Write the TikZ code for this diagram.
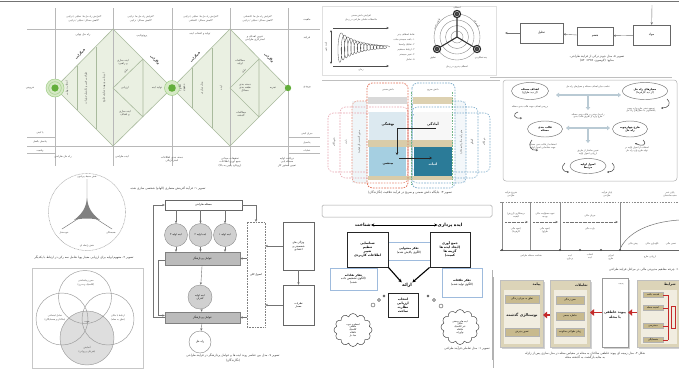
\documentclass[tikz,border=0pt]{standalone}
\usepackage{fontspec}
\newfontfamily\arabicfont[Script=Arabic]{DejaVu Sans}
\TeXXeTstate=1
\usetikzlibrary{arrows.meta,shapes.geometric,shapes.symbols}
\newcommand\fa[1]{{\arabicfont\beginR #1\endR}}

\definecolor{dfill}{HTML}{EAF0E2}
\definecolor{dedge}{HTML}{A9BA9D}
\definecolor{gdot}{HTML}{62AE3A}
\definecolor{gring}{HTML}{C4E0AC}
\definecolor{kred}{HTML}{E06A50}
\definecolor{kpink}{HTML}{E8A2AE}
\definecolor{kblue}{HTML}{7AAACA}
\definecolor{kgreen}{HTML}{72B585}
\definecolor{ktan}{HTML}{D9CCA9}
\definecolor{klight}{HTML}{DCE9F0}
\definecolor{kmid}{HTML}{A5CFE1}
\definecolor{kdark}{HTML}{2B7B98}
\definecolor{pgrey}{HTML}{D0D0D0}
\definecolor{pgreyd}{HTML}{BBBBBB}
\definecolor{tanA}{HTML}{DCD4B8}
\definecolor{tanB}{HTML}{C8BA8E}
\definecolor{creamA}{HTML}{F1EDE0}
\definecolor{rarrow}{HTML}{C42A2A}
\definecolor{bline}{HTML}{9EBBDD}
\definecolor{parrow}{HTML}{B9CAD4}

\tikzset{
  txt/.style={font=\fontsize{2.7}{3.3}\selectfont, inner sep=0.2pt, align=center, text=black!72},
  txs/.style={txt, font=\fontsize{2.3}{2.8}\selectfont},
  txb/.style={txt, font=\fontsize{3.4}{4.1}\selectfont\bfseries, text=black!88},
  txe/.style={txt, font=\fontsize{3}{3.6}\selectfont\bfseries, text=black!85},
  txl/.style={txt, font=\fontsize{4.4}{5.2}\selectfont\bfseries, text=black},
  capt/.style={txt, font=\fontsize{3}{3.6}\selectfont, text=black!80},
  gridln/.style={draw=black!28, line width=0.45pt},
  dline/.style={draw=dedge, line width=0.6pt},
  arr/.style={-{Stealth[length=2.6pt,width=2.2pt]}},
  thinln/.style={draw=black!55, line width=0.4pt},
  boxn/.style={draw=black!60, line width=0.45pt, inner sep=0.5pt, align=center},
  greyc/.style={circle, draw=black!45, fill=pgrey, line width=0.4pt, minimum size=23pt, inner sep=0pt, font=\fontsize{2.5}{3}\selectfont, align=center},
  greyr/.style={draw=black!50, fill=pgreyd, line width=0.4pt, inner sep=0pt, font=\fontsize{2.7}{3.3}\selectfont, align=center},
  kdash/.style={dashed, dash pattern=on 1.6pt off 1.2pt, rounded corners=5pt, line width=0.55pt},
  oval/.style={ellipse, draw=black!55, line width=0.45pt, inner sep=0pt, align=center, font=\fontsize{2.7}{3.3}\selectfont},
  parr/.style={draw=parrow, line width=2pt, {Triangle[length=3pt,width=4.5pt]}-{Triangle[length=3pt,width=4.5pt]}},
  parrv/.style={draw=parrow, line width=2pt, -{Triangle[length=3pt,width=4.5pt]}},
  hook/.style={draw=black!70, line width=0.55pt, -{Stealth[length=2pt,width=2pt]}},
  tbox/.style={draw=black!85, line width=0.9pt, fill=white, inner sep=0pt, align=center, font=\fontsize{3.2}{4}\selectfont\bfseries},
  bbox/.style={draw=bline, line width=0.7pt, fill=white, inner sep=0pt, align=center, font=\fontsize{2.9}{3.6}\selectfont},
  tline/.style={draw=black!45, line width=0.45pt},
  redarr/.style={draw=rarrow, line width=1.8pt, -{Triangle[length=4pt,width=6.5pt]}},
  panelT/.style={fill=tanA, draw=black!25, line width=0.3pt},
  innerB/.style={fill=tanB, draw=black!30, line width=0.3pt, inner sep=0pt, align=center, font=\fontsize{2.5}{3}\selectfont},
}

\begin{document}
\begin{tikzpicture}[x=1pt,y=-1pt]
\useasboundingbox (0,0) rectangle (679,368);
\fill[white] (0,0) rectangle (679,368);
\draw[black!55, line width=1pt] (0,1) -- (679,1);

%% ================= double diamond process map =================
\fill[dfill] (55,88) -- (113,29) -- (172,88) -- (113,146) -- cycle;
\fill[dfill] (172,88) -- (230,29) -- (288,88) -- (230,146) -- cycle;
\foreach \x in {55,113,172,230,288} \draw[gridln] (\x,8) -- (\x,166);
\draw[gridln] (27,29) -- (320,29);
\draw[gridln] (27,146) -- (320,146);
\draw[gridln] (27,137) -- (55,137) (27,153) -- (55,153) (288,137) -- (320,137) (288,153) -- (320,153);
\draw[dline] (55,88) -- (113,29) -- (172,88) -- (113,146) -- cycle;
\draw[dline] (172,88) -- (230,29) -- (288,88) -- (230,146) -- cycle;
\draw[dline] (77,66) -- (77,110) (96,47) -- (96,129);
\draw[dline] (143,59) -- (113,88) -- (143,117) (143,59) -- (143,117);
\draw[dline] (192,68) -- (192,108) (212,48) -- (212,128);
\draw[dline] (259,59) -- (230,88) -- (259,117) (259,59) -- (259,117);
% nodes of the diamonds
\fill[gring!70] (55,88) circle (9);
\draw[gdot!60, line width=0.5pt] (55,88) circle (9) (55,88) circle (6.3);
\fill[gdot] (55,88) circle (3.6);
\fill[gring!70] (172,88) circle (7.5);
\draw[gdot!60, line width=0.5pt] (172,88) circle (7.5);
\fill[gdot] (172,88) circle (3.8);
\fill[gdot] (288,88) circle (3.2);
% headers
\node[txs] (h1) at (84,19) {\fa{*افزایش راه حل ها: تحلیلی / ترکیبی}\\[0.6pt]\fa{*کاهش مسائل: تحلیلی / ترکیبی}};
\node[txs] (h2) at (141,19) {\fa{*افزایش راه حل ها: ترکیبی}\\[0.6pt]\fa{*کاهش مسائل: ترکیبی}};
\node[txs] (h3) at (201,19) {\fa{*افزایش راه حل ها: تحلیلی / ترکیبی}\\[0.6pt]\fa{*کاهش مسائل: اکتشافی}};
\node[txs] (h4) at (258,19) {\fa{*افزایش راه حل ها: اکتشافی}\\[0.6pt]\fa{*کاهش مسائل: تحلیلی / ترکیبی}};
\node[txt] (s1) at (83,35) {\fa{راه حل نهایی}};
\node[txt] (s2) at (142,36) {\fa{پروتوتایپ}};
\node[txt] (s3) at (200,34) {\fa{تولید و انتخاب ایده}};
\node[txt] (s4) at (255,38) {\fa{تدوین اهداف و}\\\fa{استراتژی طراحی}};
\node[txt] (rl1) at (307,20) {\fa{ماهیت}};
\node[txt] (rl2) at (307,38) {\fa{فرایند}};
\node[txt] (rl3) at (307,87) {\fa{ورودی}};
\node[txs] (rl4) at (307,134) {\fa{میزان کیفی}};
\node[txs] (rl5) at (307,143) {\fa{پتانسیل}};
\node[txs] (rl6) at (307,151) {\fa{عملیات}};
\node[txt] (ll1) at (30,88) {\fa{خروجی}};
\node[txs] (ll2) at (40,133) {\fa{یا کیفی}};
\node[txs] (ll3) at (40,142) {\fa{پتانسیل بالفعل}};
\node[txs] (ll4) at (40,151) {\fa{واقعیت}};
\node[txt] (b1) at (63,157) {\fa{راه حل طراحی}};
\node[txt] (b2) at (122,157) {\fa{ایده طراحی}};
\node[txt] (b3) at (172,159) {\fa{دسته بندی اطلاعات}\\\fa{استراتژیکی}};
\node[txt] (b4) at (230,162) {\fa{تحقیقات میدانی}\\\fa{جمع آوری اطلاعات}\\\fa{(رویکرد پایین به بالا)}};
\node[txt] (b5) at (287,162) {\fa{دریافت اولیه}\\\fa{مسئله یابی}\\\fa{تعیین دستور کار}};
% inside the diamonds
\node[txe, rotate=45] (e1) at (80,54) {\fa{همگرایی}};
\node[txe, rotate=-45] (e2) at (155,60) {\fa{واگرایی}};
\node[txe, rotate=45] (e3) at (195,57) {\fa{همگرایی}};
\node[txe, rotate=-45] (e4) at (269,58) {\fa{واگرایی}};
\node[txs, rotate=45] (e5) at (126,71) {\fa{تحلیل}};
\node[txs, rotate=45] (e6) at (244,71) {\fa{تحلیل}};
\node[txt, rotate=90] (c1t) at (67,88) {\fa{انتخاب نهایی}};
\node[txt, rotate=90] (c2t) at (86,88) {\fa{طراحی فنی و تکمیل جزئیات}};
\node[txt, rotate=90] (c3t) at (104,88) {\fa{ارزیابی و بهینه سازی طرح}};
\node[txt] (r1t) at (123,62) {\fa{ایده سازی}\\\fa{و راهبرد}};
\node[txt] (r2t) at (125,88) {\fa{ارزیابی}};
\node[txt] (r3t) at (125,113) {\fa{ایده سازی}\\\fa{و اهداف}};
\node[txt] (r4t) at (157,88) {\fa{تولید ایده}};
\node[txt, rotate=90] (c4t) at (182,88) {\fa{الگو /}\\\fa{مفهوم}};
\node[txt, rotate=90] (c5t) at (202,88) {\fa{مدل سازی}};
\node[txt, rotate=90] (c6t) at (221,88) {\fa{ایده}};
\node[txt] (r5t) at (240,62) {\fa{مطالعات}\\\fa{اولیه}};
\node[txt] (r6t) at (245,88) {\fa{دسته بندی}\\\fa{طبقه بندی}\\\fa{مسائل}};
\node[txt] (r7t) at (241,114) {\fa{مطالعات}\\\fa{گذشته}};
\node[txt] (r8t) at (273,88) {\fa{تجربه}};

%% ================= wave and radar card =================
\draw[black!12, fill=white, line width=0.5pt] (322,6) rectangle (496,75);
\draw[black!25, line width=0.4pt] (322,80) -- (500,80);
\coordinate (wa1) at (333,28); \coordinate (wa2) at (389,28);
\draw[black!70, line width=0.5pt, arr] (wa1) -- (wa2);
\node[txs] (wt1) at (361,18) {\fa{افزایش دانش ضمنی}\\[0.5pt]\fa{ملاحظات تعاملی طراحی در زمان}};
\coordinate (wv1) at (331,30); \coordinate (wv2) at (331,64);
\draw[black!70, line width=0.5pt, {Stealth[length=2.4pt,width=2pt]}-{Stealth[length=2.4pt,width=2pt]}] (wv1) -- (wv2);
\node[txs, rotate=90] (wt2) at (326,47) {\fa{دامنه تغییر}};
\draw[black!65, line width=0.35pt] plot[domain=0:5400, samples=700, variable=\t]
  ({339 + \t/360*3.2 + 2.6*cos(\t)}, {47 + 16*exp(-\t/2100)*sin(\t)});
\coordinate (wb1) at (333,66); \coordinate (wb2) at (389,66);
\draw[black!70, line width=0.5pt, arr] (wb1) -- (wb2);
\node[txs] (wt3) at (361,70) {\fa{زمان}};
\node[txs, anchor=east] (wl1) at (415,35) {\fa{نقاط انعطاف پذیر}};
\node[txs, anchor=east] (wl2) at (415,40) {\fa{۱. بافت سیستم ساده}};
\node[txs, anchor=east] (wl3) at (415,45) {\fa{۲. تفکیک واحدها}};
\node[txs, anchor=east] (wl4) at (415,50) {\fa{۳. ارتباط مستقیم}};
\node[txs, anchor=east] (wl5) at (415,55) {\fa{۴. تغییر سیستم}};
\node[txs, anchor=east] (wl6) at (415,60) {\fa{۵. تعامل}};
\foreach \r in {23,17,11.5,6} \draw[black!45, line width=0.4pt] (457,37) circle (\r);
\coordinate (rc) at (457,37);
\coordinate (rt) at (457,14); \coordinate (rl) at (437,49); \coordinate (rr) at (477,49);
\draw[black!80, line width=1.1pt] (rt) -- (rc) -- (rl) (rc) -- (rr);
\foreach \p in {rt,rl,rr} {\fill[black!85] (\p) circle (4.2); \draw[white, line width=0.4pt] (\p) circle (2.6); \fill[black!70] (\p) circle (1.8);}
\node[txs] (ra1) at (457,7.5) {\fa{انعطاف}};
\node[txs, rotate=60] (ra2) at (437,24) {\fa{قابلیت تغییر}};
\node[txs, rotate=-60] (ra3) at (477,24) {\fa{گسترش}};
\node[txs] (ra4) at (433,58) {\fa{تطبیق}};
\node[txs] (ra5) at (481,58) {\fa{چندعملکردی}};
\node[txs] (ra6) at (457,67) {\fa{انعطاف پذیری در زمان}};

%% ================= tacit / explicit knowledge =================
\fill[klight!45] (352,101) rectangle (367,183);
\fill[klight!35] (455,101) rectangle (466,183);
\draw[kpink, kdash] (328,113) rectangle (408,172);
\draw[kpink, kdash] (340,107) rectangle (408,178);
\draw[kred!75, kdash] (352,101) rectangle (408,183);
\draw[kblue, kdash] (412,113) rectangle (490,172);
\draw[kblue, kdash] (412,107) rectangle (478,178);
\draw[kblue, kdash] (412,101) rectangle (466,183);
\fill[black!15] (368,97) rectangle (407,104);
\fill[ktan!90] (413,97) rectangle (453,104);
\fill[klight] (369,112) rectangle (406,140);
\fill[black!3] (414,112) rectangle (452,140);
\fill[ktan] (368,140) rectangle (453,147);
\fill[kmid] (369,147) rectangle (406,176);
\fill[kdark] (414,147) rectangle (452,176);
\fill[ktan] (368,176) rectangle (453,180);
\draw[kred, kdash, line width=0.7pt] (367,83) rectangle (408,188);
\draw[kblue, kdash, line width=0.7pt] (412,83) rectangle (455,188);
\draw[kgreen, dashed, dash pattern=on 1.6pt off 1.2pt, line width=0.6pt] (411,92) -- (411,185) (452,92) -- (452,185);
\node[txs] (kt1) at (388,90) {\fa{دانش ضمنی}};
\node[txs] (kt2) at (433,90) {\fa{دانش صریح}};
\node[txb] (kq1) at (388,124) {\fa{نهفتگی}};
\node[txb] (kq2) at (433,124) {\fa{آمادگی}};
\node[txb] (kq3) at (388,164) {\fa{بینشی}};
\node[txb, text=white] (kq4) at (433,164) {\fa{اثبات}};
\node[txs, rotate=90] (ko1) at (334,142) {\fa{ناخودآگاه}};
\node[txs, rotate=90] (ko2) at (346,142) {\fa{بازی}};
\node[txs, rotate=90] (ko3) at (359,142) {\fa{محور گذشته نگر (تقلید)}};
\node[txs, rotate=90] (ko4) at (484,142) {\fa{خودآگاه}};
\node[txs, rotate=90] (ko5) at (472,142) {\fa{گفتگو}};
\node[txs, rotate=90] (ko6) at (461,142) {\fa{محور آینده نگر (استدلال)}};
\coordinate (ka1) at (436,128); \coordinate (ka2) at (397,128); \coordinate (ka3) at (397,155);
\draw[black!85, line width=0.8pt, -{Stealth[length=2.6pt,width=2.6pt]}] (ka1) -- (ka2) -- (ka3);
\coordinate (ka4) at (399,158); \coordinate (ka5) at (432,158);
\draw[black!85, line width=0.8pt, -{Stealth[length=2.6pt,width=2.6pt]}] (ka4) -- (ka5);
\node[capt] (kcap) at (410,192) {\fa{تصویر ۳: جایگاه دانش ضمنی و صریح در فرآیند خلاقیت (نگارندگان)}};

%% ================= input / process / output blocks =================
\node[boxn, minimum width=37pt, minimum height=20pt, font=\fontsize{3}{3.6}\selectfont] (mawad) at (651.5,35) {\fa{مواد}};
\node[boxn, minimum width=36pt, minimum height=18pt, font=\fontsize{3}{3.6}\selectfont] (hazm) at (595,36) {\fa{هضم}};
\node[boxn, minimum width=43pt, minimum height=20pt, font=\fontsize{3}{3.6}\selectfont] (tahlil) at (541.5,33) {\fa{تحلیل}};
\coordinate (mIn) at (652,5); \coordinate (mOut) at (505,33);
\draw[thinln, arr] (mIn) -- (mawad);
\draw[thinln, arr] (mawad) -- (hazm);
\draw[thinln, arr] (hazm) -- (tahlil);
\draw[thinln, arr] (tahlil) -- (mOut);
\node[capt] (mcap) at (597,59) {\fa{تصویر ۵- مدل جونز درکی از فرایند طراحی،}\\[0.8pt]\fa{منابع: (لاوسون، ۱۳۸۹: ۵۲)}};
\draw[black!25, line width=0.4pt] (490,77) -- (672,77);

%% ================= problem / solution frame =================
\draw[black!30, line width=0.5pt, rounded corners=3pt] (503,80) rectangle (677,181);
\node[oval, minimum width=45pt, minimum height=17pt] (crit) at (645,91) {\textbf{\fa{معیارهای راه حل}}\\\fa{(از دید کارفرما)}};
\node[oval, minimum width=37pt, minimum height=17pt] (goal) at (530,91) {\textbf{\fa{اهداف مسئله}}\\\fa{(از دید طراح)}};
\node[oval, minimum width=35pt, minimum height=16pt] (frame) at (630,129) {\textbf{\fa{طرح چهارچوبه}}\\\textbf{\fa{راه حل}}};
\node[oval, minimum width=35pt, minimum height=16pt] (form) at (545,129) {\textbf{\fa{قالب بندی}}\\\textbf{\fa{مسئله}}};
\node[oval, minimum width=36pt, minimum height=15pt] (prin) at (588,166) {\textbf{\fa{اصول اولیه}}\\\textbf{\fa{مرتبط}}};
\coordinate (pa1) at (556,95); \coordinate (pa2) at (621,95); \coordinate (pa3) at (588,95); \coordinate (pa4) at (588,110);
\coordinate (pb1) at (566,128); \coordinate (pb2) at (610,128); \coordinate (pb3) at (588,128); \coordinate (pb4) at (588,143);
\draw[parr] (pa1) -- (pa2);
\draw[parrv] (pa3) -- (pa4);
\draw[parr] (pb1) -- (pb2);
\draw[parrv] (pb3) -- (pb4);
\node[txs] (pt1) at (588,87) {\fa{تناسب میان اهداف مسئله و معیارهای راه حل}};
\node[txs] (pt2) at (588,116) {\fa{راه حل مبتنی بر قالب بندی مسئله}\\\fa{طرح واره از طریق قالب بندی}};
\node[txs] (pt3) at (588,152) {\fa{تعیین ساختار از طریق}\\\fa{ارزیابی اصول اولیه}};
\node[txs] (pt4) at (641,110) {\fa{توسعه ذهنی طرح واره جهت}\\\fa{پاسخگویی به معیارهای راه حل}};
\node[txs] (pt5) at (530,107) {\fa{بررسی اهداف جهت قالب بندی مسئله}};
\node[txs] (pt6) at (543,146) {\fa{استفاده از قالب بندی مسئله}\\\fa{جهت شناسایی اصول اولیه}};
\node[txs] (pt7) at (637,149) {\fa{استفاده از اصول اولیه در}\\\fa{تولید طرح واره راه حل}};
\coordinate (hk1) at (667,99); \coordinate (hk1e) at (661,108);
\draw[hook] (hk1) .. controls (672,104) and (668,108) .. (hk1e);
\coordinate (hk2) at (518,112); \coordinate (hk2e) at (522,118);
\draw[hook] (hk2) .. controls (512,114) and (514,119) .. (hk2e);
\coordinate (hk3) at (532,140); \coordinate (hk3e) at (538,150);
\draw[hook] (hk3) .. controls (527,146) and (531,151) .. (hk3e);
\coordinate (hk4) at (643,140); \coordinate (hk4e) at (635,143);
\draw[hook] (hk4) .. controls (648,145) and (642,147) .. (hk4e);
\coordinate (hk5) at (565,163); \coordinate (hk5e) at (569,172);
\draw[hook] (hk5) .. controls (560,167) and (563,172) .. (hk5e);
\coordinate (hk6) at (612,163); \coordinate (hk6e) at (607,172);
\draw[hook] (hk6) .. controls (617,168) and (613,172) .. (hk6e);

%% ================= three-aspect circle =================
\draw[black!35, line width=0.5pt, dash pattern=on 0.8pt off 0.6pt] (87,212) circle (38.5);
\coordinate (tc) at (87,213); \coordinate (tt) at (87,179); \coordinate (tl) at (62,229); \coordinate (tr) at (112,229);
\draw[black!55, line width=0.45pt] (tt) -- (tc) -- (tl) (tc) -- (tr);
\fill[black!50] (87,198) .. controls (88,208) and (92,214) .. (100,220) .. controls (92,218) and (82,218) .. (74,220) .. controls (82,214) and (86,208) .. (87,198) -- cycle;
\node[txs] (tq1) at (87,177) {\fa{نقش محیط پیرامون}};
\node[txs] (tq2) at (64,233) {\fa{خودمختار}};
\node[txs] (tq3) at (111,233) {\fa{همبستگی}};
\node[txs] (tq4) at (87,246) {\fa{نقش رابطه ای}};
\node[capt] (tcap) at (84,258) {\fa{تصویر ۲- مفهوم اولیه برای ارزیابی معیار پویا شامل سه رکن در ارتباط با یکدیگر}};

%% ================= four-circle venn =================
\draw[black!22, line width=0.5pt] (32,268) rectangle (143,368);
\fill[black!13] (87,338) circle (27);
\draw[black!40, line width=0.45pt] (85,297) circle (26.5) (62,319) circle (26) (108,319) circle (26) (87,338) circle (27);
\node[txs] (v1) at (86,283) {\fa{حس زیباشناختی}\\[1pt]\fa{(کلاسیک و مدرن)}};
\node[txs] (v2) at (55,318) {\fa{تعامل اجتماعی}\\[1pt]\fa{(ساکنان و همسایگان)}};
\node[txs] (v3) at (118,318) {\fa{ارتباط با مکان}\\[1pt]\fa{(تعلق به محله)}};
\node[txs] (v4) at (87,350) {\fa{آسایش}\\[1pt]\fa{(فیزیکی و روانی)}};
\node[txs] (v5) at (87,322) {\fa{هویت}};

%% ================= idea processing flowchart =================
\node[capt] (fcapt) at (168,188) {\fa{تصویر ۱: فرآیند آفرینش معماری (الهام) شخصی سازی شده}};
\node[boxn, minimum width=77pt, minimum height=10pt, font=\fontsize{2.8}{3.4}\selectfont] (ptop) at (203.5,205) {\fa{مسئله طراحی}};
\node[greyc, minimum size=23pt] (fc1) at (176,235) {\fa{ایده اولیه ۳}};
\node[greyc, minimum size=23pt] (fc2) at (200.5,235) {\fa{ایده اولیه ۲}};
\node[greyc, minimum size=23pt] (fc3) at (225,235) {\fa{ایده اولیه ۱}};
\node[greyr, minimum width=75pt, minimum height=13pt] (fr1) at (202.5,258.5) {\fa{عوامل پردازشگر}};
\node[greyc, minimum size=24pt] (fctl) at (200,297) {\fa{ایده اولیه}\\\fa{کنترلی}};
\node[greyr, minimum width=75pt, minimum height=11pt] (fr2) at (202.5,317.5) {\fa{عوامل پردازشگر}};
\node[circle, draw=black!50, line width=0.4pt, minimum size=22pt, inner sep=0pt, font=\fontsize{2.8}{3.4}\selectfont] (fsol) at (200,342) {\fa{راه حل}};
\node[draw=black!50, dash pattern=on 0.8pt off 0.8pt, line width=0.45pt, minimum width=18pt, minimum height=105pt, inner sep=0pt, font=\fontsize{2.7}{3.3}\selectfont] (fdot) at (256,274.5) {\fa{اصول کلی}};
\node[boxn, minimum width=31pt, minimum height=48pt, font=\fontsize{2.6}{3.2}\selectfont] (frb1) at (298.5,246) {\fa{ویژگی های}\\\fa{شخصیتی و}\\\fa{اعتقادی}};
\node[boxn, minimum width=31pt, minimum height=40pt, font=\fontsize{2.6}{3.2}\selectfont] (frb2) at (298.5,305) {\fa{نظریات}\\\fa{معمار}};
\foreach \c in {fc1,fc2,fc3} {
  \draw[thinln, arr] (ptop.south -| \c) -- (\c);
  \draw[thinln, arr] (\c) -- (\c |- fr1.north);
}
\draw[thinln, arr] (fr1) -- (fctl);
\draw[thinln, arr] (fctl) -- (fr2);
\draw[thinln, arr] (fr2) -- (fsol);
\draw[thinln, arr] (fr2.west) -- ++(-12,0) |- (ptop.west);
\draw[thinln, arr] ([yshift=-2pt]fr1.west) -- ++(-7,0) |- ([yshift=2pt]fr2.west);
\draw[thinln, arr] (fdot.west |- fr1) -- (fr1.east);
\draw[thinln, arr] (fdot.west |- fr2) -- (fr2.east);
\draw[thinln, arr] (frb1.west) -- (frb1.west -| fdot.east);
\draw[thinln, arr] (frb2.west) -- (frb2.west -| fdot.east);
\draw[thinln, arr] (frb1) -- (frb2);
\draw[thinln, arr] (ptop.east) -| (fdot.north);
\node[capt] (fcap) at (233,358) {\fa{تصویر ۷- مدل بین عناصر روند ایده ها و عوامل پردازشگر در فرایند طراحی}\\[0.8pt]\fa{(نگارندگان)}};

%% ================= interactive thinking model =================
\draw[black!35, line width=0.5pt, rounded corners=1.5pt] (322,205) rectangle (492,217);
\node[txl] (shen) at (363,225) {\fa{شناخت}};
\node[txl] (ideh) at (450,225) {\fa{ایده پردازی}};
\draw[black, line width=0.9pt, {Stealth[length=3pt,width=3pt]}-{Stealth[length=3pt,width=3pt]}] (shen.east) -- (ideh.west);
\node[bbox, minimum width=47pt, minimum height=22pt] (lblue) at (353.5,279) {\textbf{\fa{تفکر نقادانه}}\\\fa{(الگوی تشخیص داده}\\\fa{شده)}};
\node[bbox, minimum width=40pt, minimum height=29pt] (rblue) at (462,282.5) {\textbf{\fa{تفکر خلاقانه}}\\\fa{(الگوی تولید شده)}};
\node[bbox, minimum width=42pt, minimum height=18pt] (mblue) at (409,251) {\textbf{\fa{تفکر محتوایی}}\\\fa{(الگوی پالایش شده)}};
\node[tbox, minimum width=41pt, minimum height=35pt] (lbox) at (367.5,249.5) {\fa{شناسایی}\\\fa{تنظیم}\\\fa{تغییر}\\\fa{اطلاعات کاربردی}};
\node[tbox, minimum width=40pt, minimum height=35pt] (rbox) at (450,249.5) {\fa{جمع آوری}\\\fa{(ایجاد ایده ها}\\\fa{گزینه ها}\\\fa{کمیت)}};
\node[txl] (araeh) at (407,285) {\fa{ارائه}};
\node[tbox, minimum width=30pt, minimum height=24pt] (bbx) at (403,305) {\fa{انتخاب}\\\fa{ارزیابی}\\\fa{نظارت}\\\fa{ساخت}};
\draw[black, line width=1.1pt, -{Stealth[length=3.4pt,width=3.4pt]}] (lbox.south east) -- (araeh.north west);
\draw[black, line width=1.1pt, -{Stealth[length=3.4pt,width=3.4pt]}] (rbox.south west) -- (araeh.north east);
\node[cloud, draw=black!70, line width=0.5pt, cloud puffs=12, aspect=1.1, minimum width=38pt, minimum height=33pt, inner sep=0pt, font=\fontsize{2.3}{2.8}\selectfont, align=center] (cl1) at (353,330) {\fa{اسطوره خوب}\\\fa{منطقی}\\\fa{کلاسیک}\\\fa{عاقلانه}\\\fa{مبنا دار}};
\node[cloud, draw=black!70, line width=0.5pt, cloud puffs=12, aspect=1.1, minimum width=38pt, minimum height=35pt, inner sep=0pt, font=\fontsize{2.3}{2.8}\selectfont, align=center] (cl2) at (460,327) {\fa{ایده های وحشی}\\\fa{تخیلی}\\\fa{غیر کلاسیک}\\\fa{خلاقانه}\\\fa{نوآورانه}};
\node[circle, draw=black!70, line width=0.4pt, minimum size=4pt, inner sep=0pt] (bu1) at (373,305) {};
\node[circle, draw=black!70, line width=0.4pt, minimum size=3pt, inner sep=0pt] (bu2) at (379,300) {};
\node[circle, draw=black!70, line width=0.4pt, minimum size=2pt, inner sep=0pt] (bu3) at (384,296) {};
\node[circle, draw=black!70, line width=0.4pt, minimum size=4pt, inner sep=0pt] (bu4) at (441,306) {};
\node[circle, draw=black!70, line width=0.4pt, minimum size=3pt, inner sep=0pt] (bu5) at (434,300) {};
\node[circle, draw=black!70, line width=0.4pt, minimum size=2pt, inner sep=0pt] (bu6) at (428,296) {};
\node[capt, anchor=east] (tmcap) at (490,348) {\fa{تصویر ۱: مدل تعاملی فرآیند طراحی}};
\draw[black!30, line width=0.5pt] (493,277) -- (493,368);

%% ================= project timeline =================
\node[txs] (tl1) at (511,194) {\fa{شروع فرآیند}\\\fa{طراحی}};
\node[txs] (tl2) at (607,194) {\fa{پایان فرآیند}\\\fa{طراحی}};
\node[txs] (tl3) at (670,194) {\fa{پایان عمر}\\\fa{مفید ساختمان}};
\draw[black!45, line width=0.5pt, dash pattern=on 1.6pt off 1.2pt] (500,202) -- (679,202);
\foreach \x in {502,530,560,620} \draw[tline] (\x,202) -- (\x,250);
\coordinate (ta1) at (505,222); \coordinate (ta2) at (528,222);
\coordinate (ta3) at (533,222); \coordinate (ta4) at (558,222);
\coordinate (ta5) at (563,222); \coordinate (ta6) at (618,222);
\foreach \a/\b in {ta1/ta2,ta3/ta4,ta5/ta6} \draw[black!55, line width=0.5pt, dash pattern=on 0.8pt off 0.5pt, arr] (\a) -- (\b);
\node[txs] (tx1) at (516,215) {\fa{درستکاری (ارزش)}\\\fa{کیفیت}};
\node[txs] (tx2) at (545,215) {\fa{تعهد مسئولیت مالی}\\\fa{بودجه}};
\node[txs] (tx3) at (590,216) {\fa{جریان مالی}};
\node[txs] (tx4) at (516,230) {\fa{(تعهد مالی}\\\fa{کارفرما)}};
\node[txs] (tx5) at (545,230) {\fa{(تعهد مالی}\\\fa{طراح)}};
\node[txs] (tx6) at (590,229) {\fa{بازده مالی}};
\coordinate (cv1) at (620,249); \coordinate (cv2) at (679,220);
\draw[black!55, line width=0.5pt] (cv1) .. controls (628,232) and (650,222) .. (cv2);
\node[txs] (tx7) at (633,244) {\fa{پیش مالی}};
\node[txs] (tx8) at (652,244) {\fa{نگهداری مالی}};
\node[txs] (tx9) at (671,244) {\fa{تعمیر مالی}};
\draw[black!60, line width=0.6pt] (500,250) -- (679,250);
\foreach \x in {502,560,580,601,620} \fill[black!70] (\x,250) circle (1.1);
\node[txs] (tb1) at (531,256) {\fa{شناخت مسئله طراحی}};
\node[txs] (tb2) at (570,257) {\fa{ایده}\\\fa{پردازی}};
\node[txs] (tb3) at (590,256) {\fa{انتخاب}\\\fa{ایده}};
\node[txs] (tb4) at (611,257) {\fa{اجرای}\\\fa{طرح}};
\node[txs] (tb5) at (650,257) {\fa{ارزیابی طرح}};
\node[capt, anchor=east] (tlcap) at (679,270) {\fa{۱: چرخه مفاهیم مدیریتی مالی در مراحل فرایند طراحی}};

%% ================= grounded model panels =================
\fill[black!18] (502,282) rectangle (545,349);
\fill[panelT] (500,280) rectangle (543,347);
\fill[creamA] (504,290) rectangle (540,344);
\node[txb, anchor=east] (pp0) at (541,285) {\fa{پیامد}};
\node[innerB, minimum width=34pt, minimum height=8pt] (pp1) at (522,299) {\fa{تعلق به جریان زندگی}};
\node[txb, font=\fontsize{3.8}{4.5}\selectfont\bfseries] (pp2) at (522,315) {\fa{نوستالژی گذشته}};
\node[innerB, minimum width=34pt, minimum height=8pt] (pp3) at (522,332) {\fa{تصور پذیرش}};
\fill[black!18] (552,282) rectangle (592,349);
\fill[panelT] (550,280) rectangle (590,347);
\fill[creamA] (554,290) rectangle (587,344);
\node[txb, anchor=east] (ta0) at (588,285) {\fa{تعاملات}};
\node[innerB, minimum width=28pt, minimum height=8pt] (ti1) at (570,300) {\fa{حس زندگی}};
\node[innerB, minimum width=28pt, minimum height=8pt] (ti2) at (570,316) {\fa{خاطره جمعی}};
\node[innerB, minimum width=28pt, minimum height=8pt] (ti3) at (570,332) {\fa{زمان طولانی سکونت}};
\fill[black!18] (604,280) rectangle (630,349);
\node[draw=black!40, fill=white, line width=0.4pt, minimum width=26pt, minimum height=69pt, inner sep=0pt] (pd) at (615,312.5) {};
\node[txs] (pd0) at (621,284) {\fa{پدیده}};
\node[txb] (pd1) at (615,315) {\fa{پیوند عاطفی}\\\fa{با محله}};
\fill[black!18] (639,282) rectangle (679,349);
\fill[panelT] (637,280) rectangle (679,347);
\fill[creamA] (641,290) rectangle (677,344);
\node[txb, anchor=east] (sh0) at (676,285) {\fa{شرایط}};
\node[innerB, minimum width=20pt, minimum height=5pt] (sb1) at (653,295) {\fa{قدمت بافت}};
\node[innerB, minimum width=20pt, minimum height=5pt] (sb2) at (653,308) {\fa{امنیت محله}};
\node[innerB, minimum width=20pt, minimum height=5pt] (sb3) at (653,326) {\fa{دسترسی}};
\node[innerB, minimum width=20pt, minimum height=5pt] (sb4) at (653,340) {\fa{همسایگی}};
\draw[rarrow, line width=0.5pt] (668,295) -- (668,340);
\foreach \s in {sb1,sb2,sb3,sb4} \draw[rarrow, line width=0.5pt] (\s.east) -- (\s.east -| 668,0);
\node[draw=rarrow, line width=0.4pt, fill=creamA, minimum width=4pt, minimum height=22pt, inner sep=0pt] (sbr) at (673,317) {};
\draw[redarr] (pd.east -| 637,0) ++(0,0) -- (pd.east);
\draw[redarr] (pd.west) -- (pd.west -| 590,0);
\coordinate (ra) at (550,315); \coordinate (rb) at (543,315);
\draw[redarr] (ra) -- (rb);
\draw[black!30, line width=0.5pt] (492,270) -- (492,360);
\node[capt] (gcap) at (585,356) {\fa{شکل ۴- مدل زمینه ای پیوند عاطفی ساکنان به محله در مقیاس محله در مدل سازی پس از زلزله}\\[0.8pt]\fa{به مثابه بازگشت به گذشته محله}};
\end{tikzpicture}
\end{document}
